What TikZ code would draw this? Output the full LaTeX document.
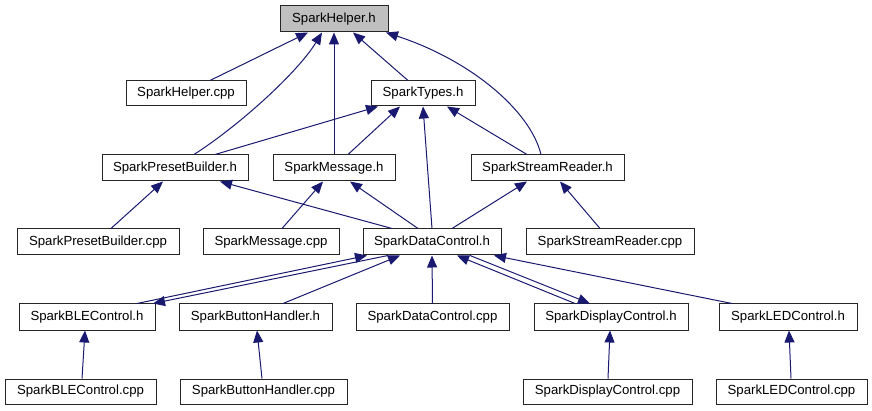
\documentclass[tikz,border=0pt]{standalone}
\usepackage{fontspec}
\setmainfont{Liberation Sans}
\usetikzlibrary{arrows.meta}
\definecolor{edgeblue}{HTML}{191970}
\definecolor{boxgray}{HTML}{BFBFBF}
\tikzset{
  fbox/.style={draw=black!85, line width=1pt, inner sep=0pt, minimum height=26pt,
    font=\fontsize{13.2}{15}\selectfont, text=black, anchor=center},
  rootbox/.style={fbox, fill=boxgray},
  edge/.style={draw=edgeblue, line width=1pt, -{Triangle[length=12pt,width=10pt]}},
}
\begin{document}
\begin{tikzpicture}[x=1pt,y=-1pt]
\useasboundingbox (0,0) rectangle (872,411);
% row 1
\node[rootbox, minimum width=108pt] (helper) at (334,19) {SparkHelper.h};
% row 2
\node[fbox, minimum width=120pt, minimum height=25pt] (helpercpp) at (186,93.5) {SparkHelper.cpp};
\node[fbox, minimum width=104pt, minimum height=25pt] (types) at (423,93.5) {SparkTypes.h};
% row 3
\node[fbox, minimum width=146pt] (preset) at (175,168) {SparkPresetBuilder.h};
\node[fbox, minimum width=122pt] (message) at (334,168) {SparkMessage.h};
\node[fbox, minimum width=153pt] (stream) at (547.5,168) {SparkStreamReader.h};
% row 4
\node[fbox, minimum width=162pt] (presetcpp) at (98,242) {SparkPresetBuilder.cpp};
\node[fbox, minimum width=136pt] (messagecpp) at (271,242) {SparkMessage.cpp};
\node[fbox, minimum width=138pt] (data) at (432,242) {SparkDataControl.h};
\node[fbox, minimum width=168pt] (streamcpp) at (610,242) {SparkStreamReader.cpp};
% row 5
\node[fbox, minimum width=136pt] (ble) at (87,317) {SparkBLEControl.h};
\node[fbox, minimum width=153pt] (button) at (255.5,317) {SparkButtonHandler.h};
\node[fbox, minimum width=153pt] (datacpp) at (432.5,317) {SparkDataControl.cpp};
\node[fbox, minimum width=154pt] (display) at (611,317) {SparkDisplayControl.h};
\node[fbox, minimum width=138pt] (led) at (788,317) {SparkLEDControl.h};
% row 6
\node[fbox, minimum width=151pt, minimum height=25pt] (blecpp) at (80.5,391.5) {SparkBLEControl.cpp};
\node[fbox, minimum width=167pt, minimum height=25pt] (buttoncpp) at (263.5,391.5) {SparkButtonHandler.cpp};
\node[fbox, minimum width=169pt, minimum height=25pt] (displaycpp) at (607.5,391.5) {SparkDisplayControl.cpp};
\node[fbox, minimum width=151pt, minimum height=25pt] (ledcpp) at (791.5,391.5) {SparkLEDControl.cpp};

% edges to SparkHelper.h
\draw[edge] ([xshift=24pt]helpercpp.north) -- ([xshift=-26pt]helper.south);
\draw[edge] ([xshift=19pt]preset.north) .. controls (240,125) and (298,72) .. ([xshift=-12pt]helper.south);
\draw[edge] (message.north) -- (helper.south);
\draw[edge] ([xshift=-15pt]types.north) -- ([xshift=19pt]helper.south);
\draw[edge] ([xshift=-6.5pt]stream.north) .. controls (530,110) and (470,60) .. ([xshift=52pt]helper.south);
% edges to SparkTypes.h
\draw[edge] ([xshift=40pt]preset.north) -- ([xshift=-45pt]types.south);
\draw[edge] ([xshift=14pt]message.north) -- ([xshift=-23pt]types.south);
\draw[edge] (data.north) -- (types.south);
\draw[edge] ([xshift=-20.5pt]stream.north) -- ([xshift=24pt]types.south);
% row 4 -> row 3
\draw[edge] ([xshift=13pt]presetcpp.north) -- ([xshift=-12pt]preset.south);
\draw[edge] ([xshift=-40pt]data.north) -- ([xshift=45pt]preset.south);
\draw[edge] ([xshift=11pt]messagecpp.north) -- ([xshift=-11pt]message.south);
\draw[edge] ([xshift=-14pt]data.north) -- ([xshift=16pt]message.south);
\draw[edge] ([xshift=20pt]data.north) -- ([xshift=-20.5pt]stream.south);
\draw[edge] ([xshift=-10pt]streamcpp.north) -- ([xshift=12.5pt]stream.south);
% row 5 <-> SparkDataControl.h
\draw[edge] ([xshift=50pt]ble.north) -- ([xshift=-65pt]data.south);
\draw[edge] ([xshift=-44pt]data.south) -- ([xshift=66pt]ble.north);
\draw[edge] ([xshift=27.5pt]button.north) -- ([xshift=-32pt]data.south);
\draw[edge] (datacpp.north) -- (data.south);
\draw[edge] ([xshift=-36pt]display.north) -- ([xshift=25pt]data.south);
\draw[edge] ([xshift=38pt]data.south) -- ([xshift=-21pt]display.north);
\draw[edge] ([xshift=-56pt]led.north) -- ([xshift=62pt]data.south);
% row 6 -> row 5
\draw[edge] ([xshift=1.5pt]blecpp.north) -- ([xshift=-2pt]ble.south);
\draw[edge] ([xshift=-1.5pt]buttoncpp.north) -- ([xshift=1.5pt]button.south);
\draw[edge] ([xshift=0.5pt]displaycpp.north) -- ([xshift=-1pt]display.south);
\draw[edge] ([xshift=-0.5pt]ledcpp.north) -- ([xshift=1pt]led.south);
\end{tikzpicture}
\end{document}
